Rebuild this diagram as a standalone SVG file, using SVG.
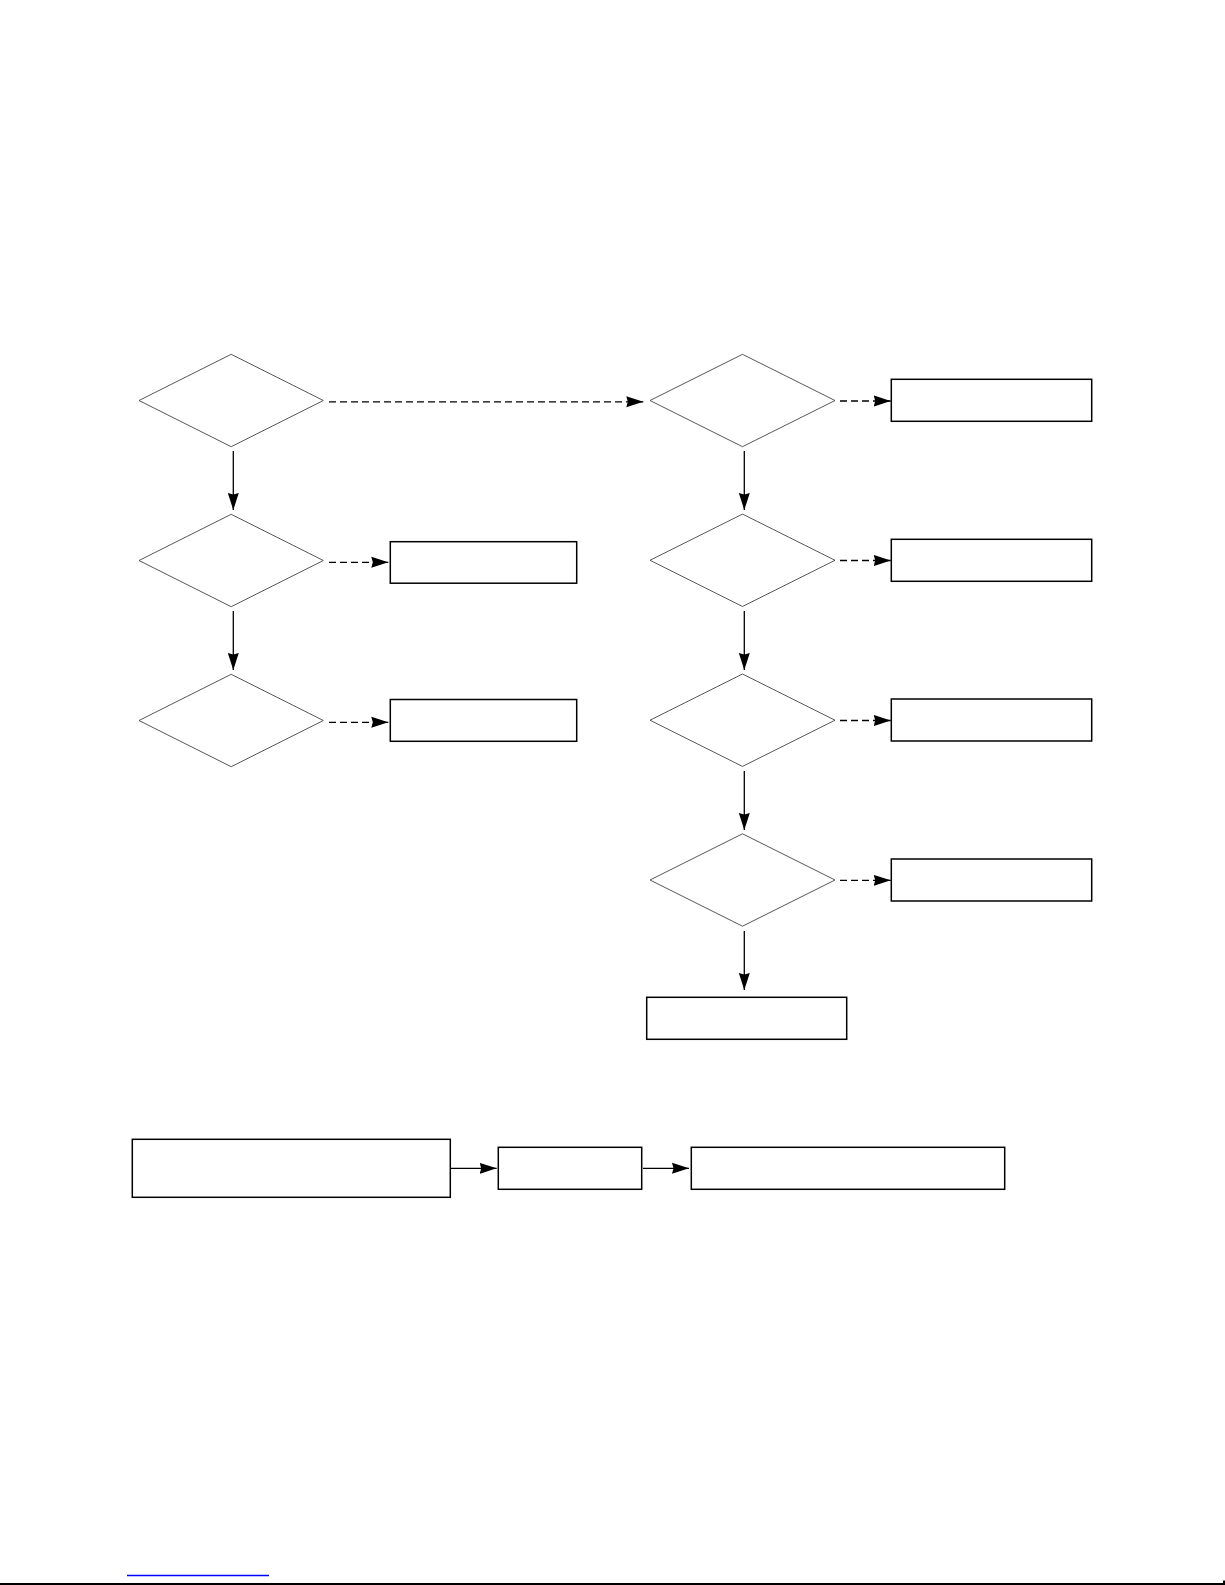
<svg xmlns="http://www.w3.org/2000/svg" width="1225" height="1585" viewBox="0 0 1225 1585">
<style>
.dia{fill:#fff;stroke:#444;stroke-width:0.9}
.box{fill:#fff;stroke:#000;stroke-width:1.5}
.solid{fill:none;stroke:#000;stroke-width:1.3}
.dash{fill:none;stroke:#000;stroke-width:1.3;stroke-dasharray:7 4}
</style>
<defs>
<marker id="ah" markerUnits="userSpaceOnUse" markerWidth="18" markerHeight="12" refX="17" refY="6" orient="auto">
<path d="M0,0.5 L17,6 L0,11.5 L1.5,6 z" fill="#000"/>
</marker>
</defs>
<rect width="1225" height="1585" fill="#fff"/>
<g id="nodes">
<g id="L1"><polygon class="dia" points="139,400.5 231.2,354.3 323.3,400.5 231.2,446.7"/></g>
<g id="L2"><polygon class="dia" points="139,560.5 231.2,514.3 323.3,560.5 231.2,606.7"/></g>
<g id="L3"><polygon class="dia" points="139,720.5 231.2,674.3 323.3,720.5 231.2,766.7"/></g>
<g id="LB2"><rect class="box" x="390.3" y="541.7" width="186.4" height="41.5"/></g>
<g id="LB3"><rect class="box" x="390.3" y="699.5" width="186.4" height="41.8"/></g>
<g id="R1"><polygon class="dia" points="650,400.5 742.5,354.3 835,400.5 742.5,446.7"/></g>
<g id="R2"><polygon class="dia" points="650,560.3 742.5,514.1 835,560.3 742.5,606.5"/></g>
<g id="R3"><polygon class="dia" points="650,720.2 742.5,674 835,720.2 742.5,766.4"/></g>
<g id="R4"><polygon class="dia" points="650,880 742.5,833.8 835,880 742.5,926.2"/></g>
<g id="RB1"><rect class="box" x="891.3" y="379.3" width="200.4" height="42"/></g>
<g id="RB2"><rect class="box" x="891.3" y="539.3" width="200.4" height="42"/></g>
<g id="RB3"><rect class="box" x="891.3" y="699" width="200.4" height="42"/></g>
<g id="RB4"><rect class="box" x="891.3" y="859" width="200.4" height="42"/></g>
<g id="RB5"><rect class="box" x="646.7" y="997.3" width="200" height="42"/></g>
<g id="BA"><rect class="box" x="132.3" y="1139.3" width="318" height="58"/></g>
<g id="BB"><rect class="box" x="498.3" y="1147.3" width="143.4" height="42"/></g>
<g id="BC"><rect class="box" x="691.3" y="1147.3" width="313.4" height="42"/></g>
</g>
<g id="connectors">
<line class="dash" x1="329" y1="401.8" x2="643.3" y2="401.8" marker-end="url(#ah)"/>
<line class="dash" x1="329" y1="562.3" x2="388.3" y2="562.3" marker-end="url(#ah)"/>
<line class="dash" x1="329" y1="722.3" x2="388.3" y2="722.3" marker-end="url(#ah)"/>
<line class="dash" x1="840" y1="401" x2="890.7" y2="401" marker-end="url(#ah)"/>
<line class="dash" x1="840" y1="560.5" x2="890.7" y2="560.5" marker-end="url(#ah)"/>
<line class="dash" x1="840" y1="720.5" x2="890.7" y2="720.5" marker-end="url(#ah)"/>
<line class="dash" x1="840" y1="880.3" x2="890.7" y2="880.3" marker-end="url(#ah)"/>
<line class="solid" x1="233.3" y1="451" x2="233.3" y2="510" marker-end="url(#ah)"/>
<line class="solid" x1="233.3" y1="611" x2="233.3" y2="670" marker-end="url(#ah)"/>
<line class="solid" x1="744.3" y1="451" x2="744.3" y2="510" marker-end="url(#ah)"/>
<line class="solid" x1="744.3" y1="611" x2="744.3" y2="670" marker-end="url(#ah)"/>
<line class="solid" x1="744.3" y1="771" x2="744.3" y2="830" marker-end="url(#ah)"/>
<line class="solid" x1="744.3" y1="931" x2="744.3" y2="990" marker-end="url(#ah)"/>
<line class="solid" x1="450.3" y1="1168.3" x2="496.7" y2="1168.3" marker-end="url(#ah)"/>
<line class="solid" x1="643" y1="1168.3" x2="689" y2="1168.3" marker-end="url(#ah)"/>
</g>
<line x1="127" y1="1575.5" x2="269" y2="1575.5" stroke="#00f" stroke-width="1.3"/>
<path d="M0,1584 H1224 V1580.5" fill="none" stroke="#000" stroke-width="2"/>
</svg>
